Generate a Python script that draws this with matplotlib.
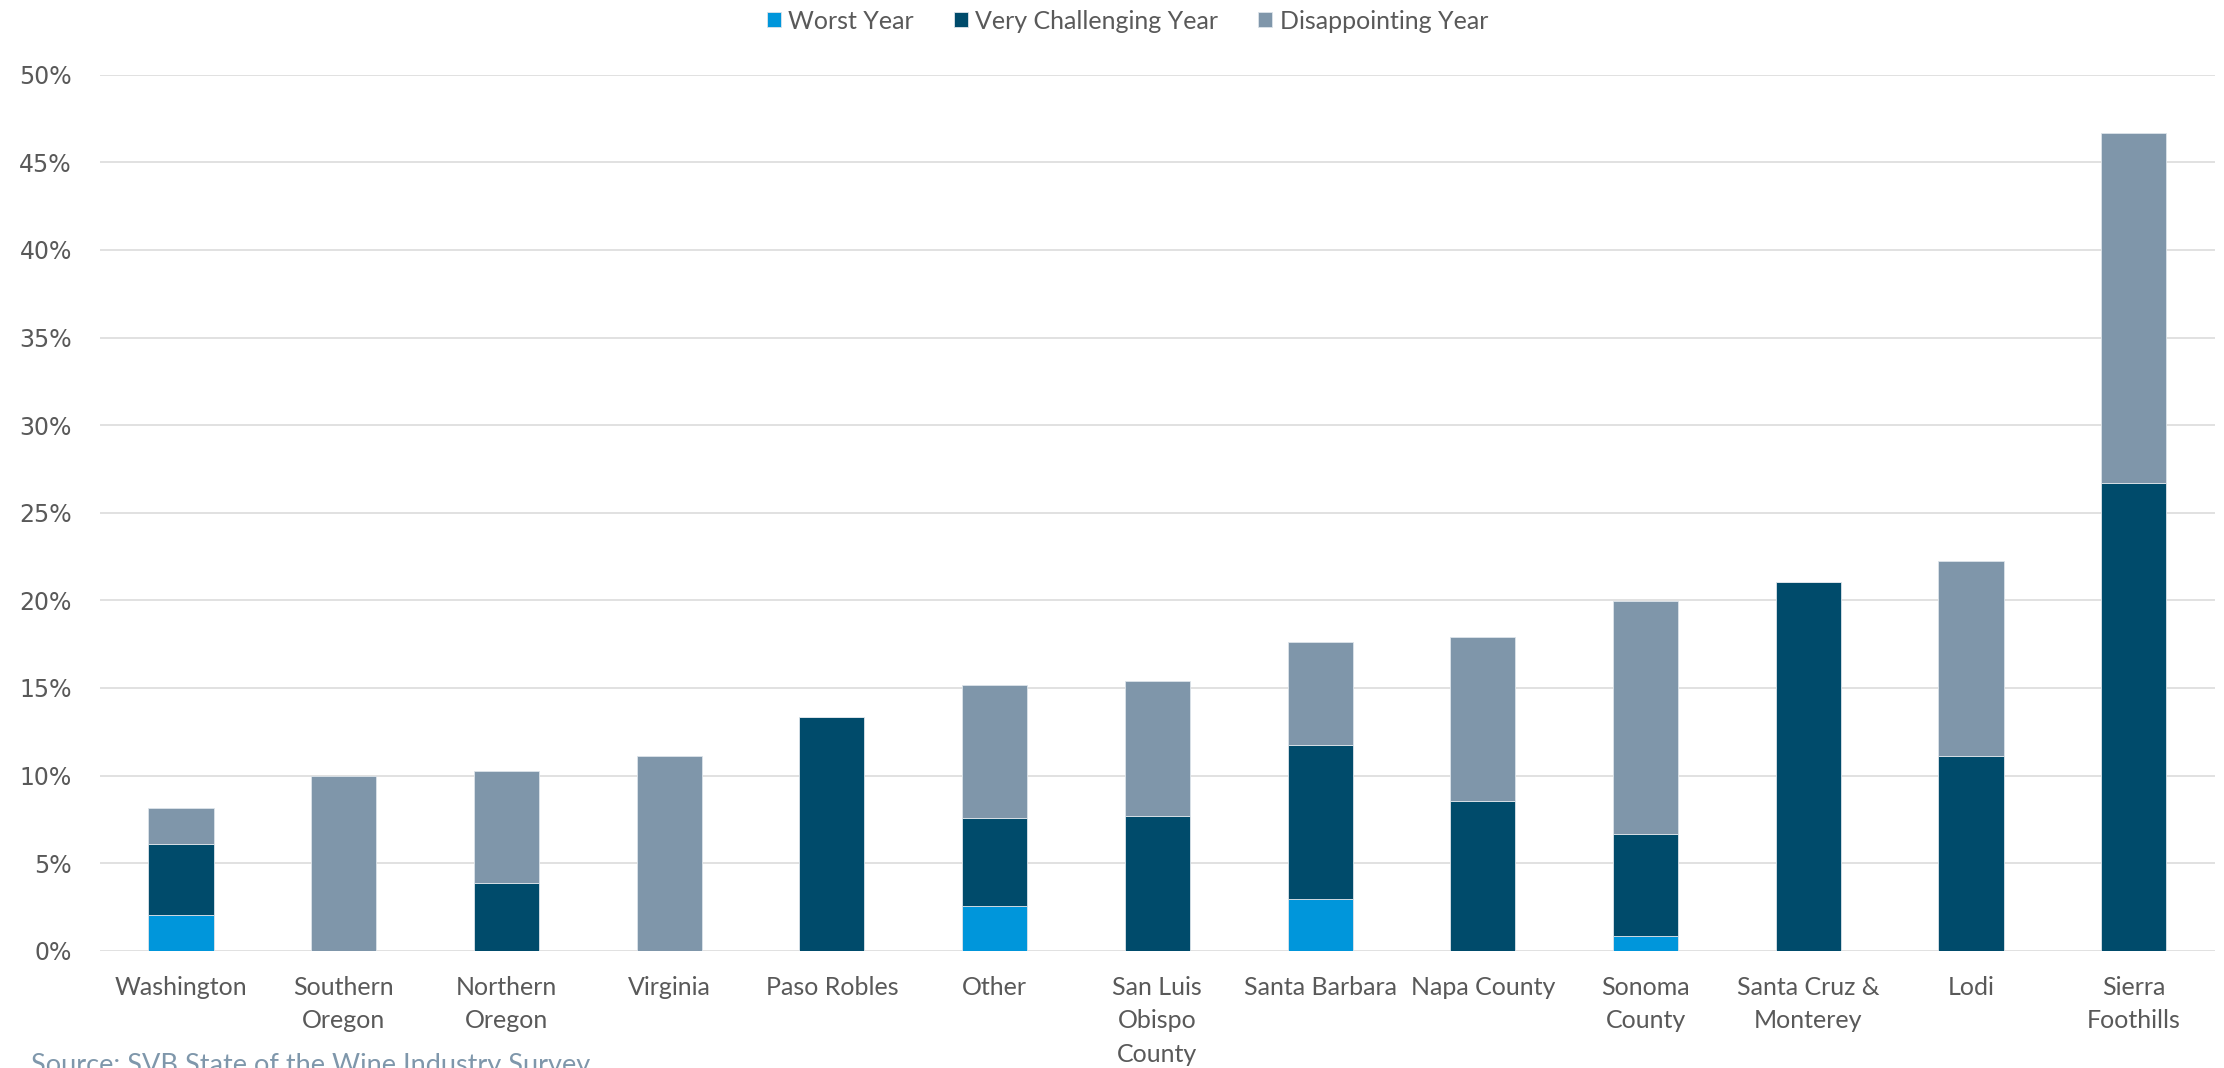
# Stacked bars: share of wineries per region calling the harvest year
# worst / very challenging / disappointing

import matplotlib.pyplot as plt
from matplotlib.ticker import FuncFormatter


# data
# ---

regions = [
    "Washington",
    "Southern\nOregon",
    "Northern\nOregon",
    "Virginia",
    "Paso Robles",
    "Other",
    "San Luis\nObispo\nCounty",
    "Santa Barbara",
    "Napa County",
    "Sonoma\nCounty",
    "Santa Cruz &\nMonterey",
    "Lodi",
    "Sierra\nFoothills",
]

# percent of respondents in each region
worst_year = [2.04, 0, 0, 0, 0, 2.53, 0, 2.94, 0, 0.83, 0, 0, 0]
very_challenging = [4.08, 0, 3.85, 0, 13.33, 5.06, 7.69, 8.82, 8.53, 5.83, 21.05, 11.11, 26.67]
disappointing = [2.04, 10.0, 6.41, 11.11, 0, 7.59, 7.69, 5.88, 9.35, 13.33, 0, 11.11, 20.0]

series_names = ["Worst Year", "Very Challenging Year", "Disappointing Year"]
yticks = [0, 5, 10, 15, 20, 25, 30, 35, 40, 45, 50]

source_note = "Source: SVB State of the Wine Industry Survey"


# styling
# ---

colors = ["#0096db", "#004b6b", "#7f96aa"]
text_grey = "#595959"
grid_grey = "#d9d9d9"
label_font = ["Lato", "DejaVu Sans"]


# plot
# ---

fig = plt.figure(figsize=(22.24, 10.68), dpi=100)
ax = fig.add_axes([0.0448, 0.1098, 0.9512, 0.8202])

x = range(len(regions))
bottom = [0] * len(regions)
for name, vals, col in zip(series_names, [worst_year, very_challenging, disappointing], colors):
    ax.bar(x, vals, width=0.4, bottom=bottom, color=col, label=name,
           edgecolor="#dde4ea", linewidth=0.6, zorder=3)
    bottom = [b + v for b, v in zip(bottom, vals)]

ax.set_xlim(-0.5, len(regions) - 0.5)
ax.set_ylim(0, 50)
ax.set_yticks(yticks)
ax.yaxis.set_major_formatter(FuncFormatter(lambda v, _: f"{v:.0f}%"))
ax.grid(axis="y", color=grid_grey, linewidth=1.1, zorder=0)
ax.set_axisbelow(True)

for s in ax.spines.values():
    s.set_visible(False)

ax.set_xticks(list(x))
ax.set_xticklabels(regions, fontsize=18, color=text_grey, family=label_font,
                   linespacing=1.55, va="top")
ax.tick_params(axis="x", length=0, pad=18)
ax.tick_params(axis="y", length=0, pad=20, labelsize=17, labelcolor=text_grey)

# legend across the top
fig.legend(
    loc="upper center",
    bbox_to_anchor=(0.507, 1.012),
    ncol=3,
    frameon=False,
    prop={"family": label_font, "size": 18},
    labelcolor=text_grey,
    handlelength=0.55,
    handleheight=0.55,
    handletextpad=0.3,
    columnspacing=1.6,
)

# source note, sits on the bottom edge
fig.text(0.014, 0.014, source_note, ha="left", va="top", fontsize=19.5,
         color="#7f97ab", family=label_font)

plt.savefig("out.png", dpi=100)
plt.close()
